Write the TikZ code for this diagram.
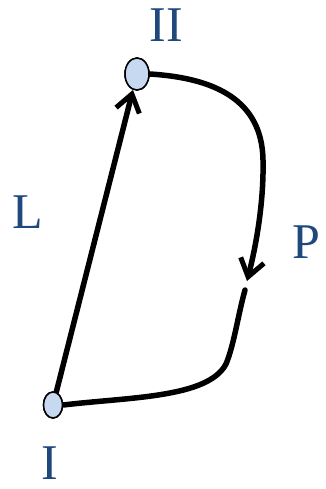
\documentclass[tikz,border=0pt]{standalone}
\usepackage{fontspec}
\setmainfont{Liberation Serif}
\usetikzlibrary{arrows.meta,shapes.geometric}
\definecolor{lbl}{HTML}{1F497D}
\definecolor{nfill}{HTML}{C6D9F1}
\tikzset{
  pt/.style={ellipse, draw=black, line width=1.5pt, fill=nfill, inner sep=0pt},
  lab/.style={text=lbl, font=\fontsize{50}{58}\selectfont, inner sep=0pt},
  conn/.style={line width=5.5pt, line cap=round},
  tip/.style={-{Straight Barb[length=17pt,width=24pt,line width=5pt]}}
}
\begin{document}
\begin{tikzpicture}[x=1pt,y=-1pt]
\useasboundingbox (0,0) rectangle (325,489);
\node[pt, minimum width=24pt, minimum height=32pt] (n2) at (137,74) {};
\node[pt, minimum width=19pt, minimum height=26pt] (n1) at (53,405) {};
\node[lab] (l2) at (166,25) {II};
\node[lab] (l1) at (50,463) {I};
\node[lab] (lL) at (28,212) {L};
\node[lab] (lP) at (306,242) {P};
\coordinate (pa) at (247,281);
\coordinate (pb) at (245,290);
\draw[conn,tip] (n1) -- (n2);
\draw[conn,tip] (n2.east) .. controls (215,78) and (262,100) .. (263,160)
  .. controls (264,205) and (255,250) .. (pa);
\draw[conn] (pb) .. controls (238,315) and (234,345) .. (226,364)
  .. controls (208,398) and (130,397) .. (n1.east);
\node[pt, minimum width=24pt, minimum height=32pt] at (n2) {};
\node[pt, minimum width=19pt, minimum height=26pt] at (n1) {};
\end{tikzpicture}
\end{document}
